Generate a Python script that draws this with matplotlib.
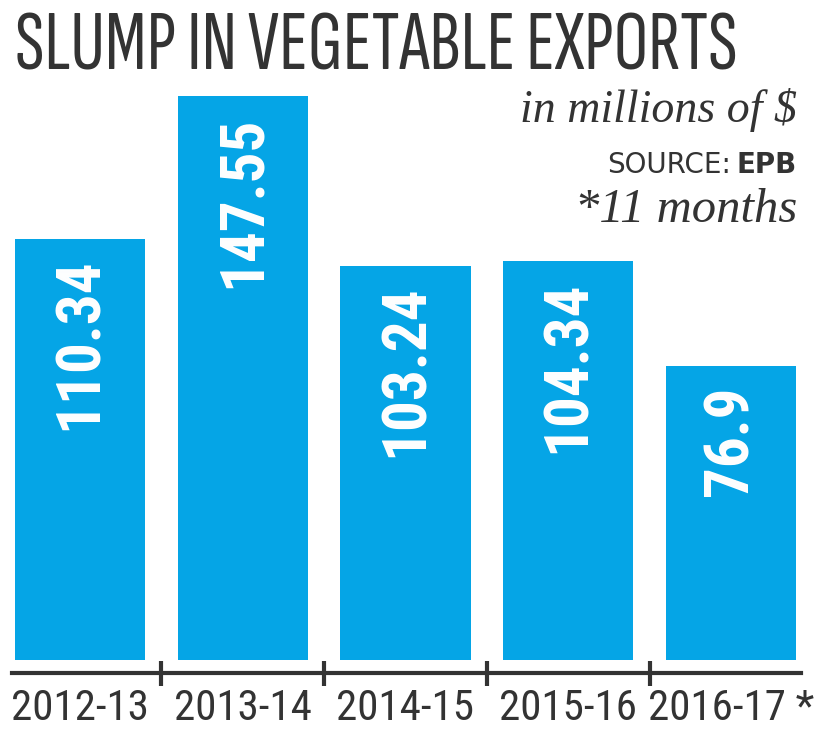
import matplotlib
matplotlib.use("Agg")
import matplotlib.pyplot as plt

# data
years = ["2012-13", "2013-14", "2014-15", "2015-16", "2016-17"]
exports = [110.34, 147.55, 103.24, 104.34, 76.9]
value_labels = ["110.34", "147.55", "103.24", "104.34", "76.9"]
tick_labels = years[:-1] + [years[-1] + " *"]  # last year covers 11 months

cond = ["Roboto Condensed", "Open Sans Condensed", "Liberation Sans Narrow", "DejaVu Sans"]
title_font = ["Sofia Sans Extra Condensed", "Sofia Sans Condensed"] + cond
serif = ["Liberation Serif", "DejaVu Serif"]
blue = "#05a5e6"
dark = "#333333"

fig = plt.figure(figsize=(8.15, 7.32), dpi=100)
ax = fig.add_axes([0, 72 / 732, 1, 660 / 732])

x = list(range(len(years)))
ax.bar(x, exports, width=0.8, color=blue)
ax.set_xlim(-80 / 162.75, 735 / 162.75)
ax.set_ylim(0, 660 / 3.82)

for xi, v, lab in zip(x, exports, value_labels):
    ax.text(xi, v - 5, lab, rotation=90, ha="center", va="top", color="white",
            fontsize=44, fontweight="bold", family=cond)

# axis line with separators between bars
for s in ["top", "left", "right"]:
    ax.spines[s].set_visible(False)
ax.spines["bottom"].set_position(("outward", 9))
ax.spines["bottom"].set_linewidth(3)
ax.spines["bottom"].set_color(dark)
ax.spines["bottom"].set_bounds(-0.42, 4.43)
ax.set_yticks([])
ax.set_xticks(x)
ax.set_xticklabels(tick_labels, family=cond, fontsize=31, color=dark)
ax.set_xticks([0.5, 1.5, 2.5, 3.5], minor=True)
ax.tick_params(axis="x", which="major", length=0, pad=11)
ax.tick_params(axis="x", which="minor", direction="inout", length=18, width=3, color=dark)

# title, scaled to span its width
title = fig.text(15 / 815, 1 - 70 / 732, "SLUMP IN VEGETABLE EXPORTS", family=title_font,
                 fontsize=56, color=dark, ha="left", va="baseline")
fig.canvas.draw()
w = title.get_window_extent().width
title.set_fontsize(min(62, 56 * 735 / w))

fig.text(797 / 815, 1 - 122 / 732, "in millions of $", family=serif, style="italic",
         fontsize=33, color=dark, ha="right", va="baseline")
epb = fig.text(797 / 815, 1 - 173 / 732, "EPB", family=["DejaVu Sans"], fontsize=20,
               fontweight="bold", color=dark, ha="right", va="baseline")
fig.canvas.draw()
left = epb.get_window_extent().x0
fig.text((left - 6) / 815, 1 - 173 / 732, "SOURCE:", family=["DejaVu Sans"], fontsize=20,
         color=dark, ha="right", va="baseline")
fig.text(797 / 815, 1 - 222 / 732, "*11 months", family=serif, style="italic",
         fontsize=35, color=dark, ha="right", va="baseline")

fig.savefig("out.png", dpi=100, facecolor="white")
